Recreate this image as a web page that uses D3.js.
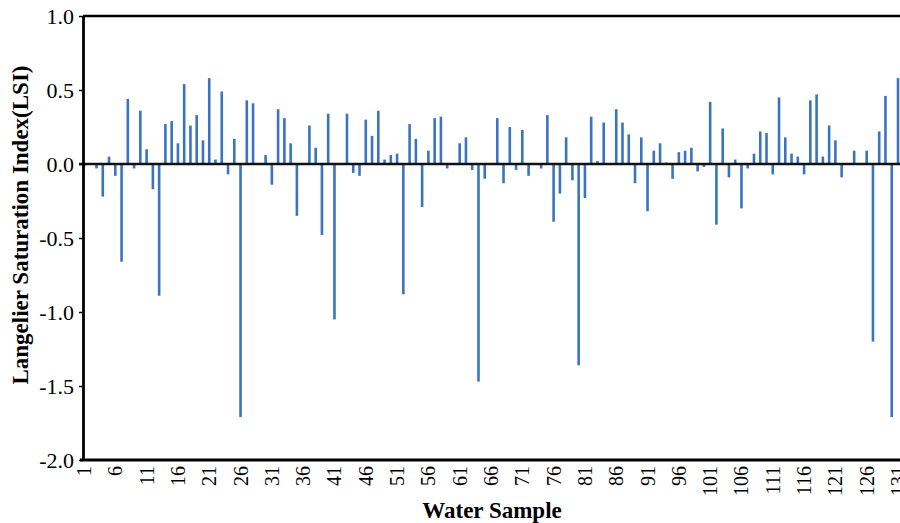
<!DOCTYPE html>
<html>
<head>
<meta charset="utf-8">
<script src="https://cdn.jsdelivr.net/npm/d3@7"></script>
<style>
  body { margin: 0; background: #fff; }
  text { font-family: "Times New Roman", "Liberation Serif", serif; fill: #000; }
</style>
</head>
<body>
<svg id="main" width="900" height="523"></svg>
<script>
// sample numbers 1..131
var samples = d3.range(1, 132);

// LSI value of each sample
var lsi = [
  -0.02, 0, -0.03, -0.22, 0.05, -0.08, -0.66, 0.44, -0.03, 0.36,
  0.10, -0.17, -0.89, 0.27, 0.29, 0.14, 0.54, 0.26, 0.33, 0.16,
  0.58, 0.03, 0.49, -0.07, 0.17, -1.71, 0.43, 0.41, 0, 0.06,
  -0.14, 0.37, 0.31, 0.14, -0.35, 0, 0.26, 0.11, -0.48, 0.34,
  -1.05, 0, 0.34, -0.06, -0.08, 0.30, 0.19, 0.36, 0.03, 0.06,
  0.07, -0.88, 0.27, 0.17, -0.29, 0.09, 0.31, 0.32, -0.03, 0,
  0.14, 0.18, -0.04, -1.47, -0.10, 0, 0.31, -0.13, 0.25, -0.04,
  0.23, -0.08, 0, -0.03, 0.33, -0.39, -0.20, 0.18, -0.11, -1.36,
  -0.23, 0.32, 0.02, 0.28, 0, 0.37, 0.28, 0.20, -0.13, 0.18,
  -0.32, 0.09, 0.14, 0.01, -0.10, 0.08, 0.09, 0.11, -0.05, -0.02,
  0.42, -0.41, 0.24, -0.09, 0.03, -0.30, -0.03, 0.07, 0.22, 0.21,
  -0.07, 0.45, 0.18, 0.07, 0.05, -0.07, 0.43, 0.47, 0.05, 0.26,
  0.16, -0.09, 0, 0.09, 0, 0.09, -1.20, 0.22, 0.46, -1.71,
  0.58
];

var xTicks = d3.range(1, 132, 5);          // 1, 6, 11, ... 131
var yTicks = [-2.0, -1.5, -1.0, -0.5, 0.0, 0.5, 1.0];

var svg = d3.select("#main");

var plot = {left: 83, right: 905, top: 16, bottom: 460};

var x = d3.scaleLinear().domain([1, 131]).range([84, 898]);
var y = d3.scaleLinear().domain([-2, 1]).range([plot.bottom, plot.top]);

// frame: top line (the right edge is cut off in the figure)
svg.append("line")
  .attr("x1", plot.left).attr("x2", 900)
  .attr("y1", plot.top).attr("y2", plot.top)
  .attr("stroke", "#000").attr("stroke-width", 2.5);

// bars
svg.append("g")
  .selectAll("line")
  .data(samples)
  .join("line")
  .attr("x1", function(d) { return x(d); })
  .attr("x2", function(d) { return x(d); })
  .attr("y1", y(0))
  .attr("y2", function(d, i) { return y(lsi[i]); })
  .attr("stroke", "#3a73c0")
  .attr("stroke-width", 2.6);

// zero line
svg.append("line")
  .attr("x1", 79).attr("x2", 900)
  .attr("y1", y(0)).attr("y2", y(0))
  .attr("stroke", "#111").attr("stroke-width", 2.4);

// y axis
var yAxis = svg.append("g")
  .attr("transform", "translate(" + plot.left + ",0)")
  .call(d3.axisLeft(y).tickValues(yTicks).tickSize(4).tickSizeOuter(0)
    .tickFormat(d3.format(".1f")));
yAxis.select(".domain").attr("stroke", "#000").attr("stroke-width", 2.8);
yAxis.selectAll(".tick line").attr("stroke", "#000").attr("stroke-width", 1.5);
yAxis.selectAll(".tick text")
  .attr("x", -9)
  .style("font-size", "22px")
  .style("font-family", "'Times New Roman', 'Liberation Serif', serif")
  .text(function(d) { return d3.format(".1f")(d).replace("−", "-"); });

// bottom line + rotated sample labels
svg.append("line")
  .attr("x1", 80).attr("x2", 900)
  .attr("y1", plot.bottom).attr("y2", plot.bottom)
  .attr("stroke", "#000").attr("stroke-width", 2.8);

svg.append("g")
  .selectAll("text")
  .data(xTicks)
  .join("text")
  .attr("transform", function(d) {
    return "translate(" + x(d) + "," + (plot.bottom + 6) + ") rotate(-90)";
  })
  .attr("text-anchor", "end")
  .attr("dy", "0.35em")
  .style("font-size", "20px")
  .text(function(d) { return d; });

// axis titles
svg.append("text")
  .attr("transform", "translate(28,225) rotate(-90)")
  .attr("text-anchor", "middle")
  .style("font-size", "23px")
  .style("font-weight", "bold")
  .text("Langelier Saturation Index(LSI)");

svg.append("text")
  .attr("x", 492).attr("y", 518)
  .attr("text-anchor", "middle")
  .style("font-size", "23px")
  .style("font-weight", "bold")
  .text("Water Sample");
</script>
</body>
</html>
